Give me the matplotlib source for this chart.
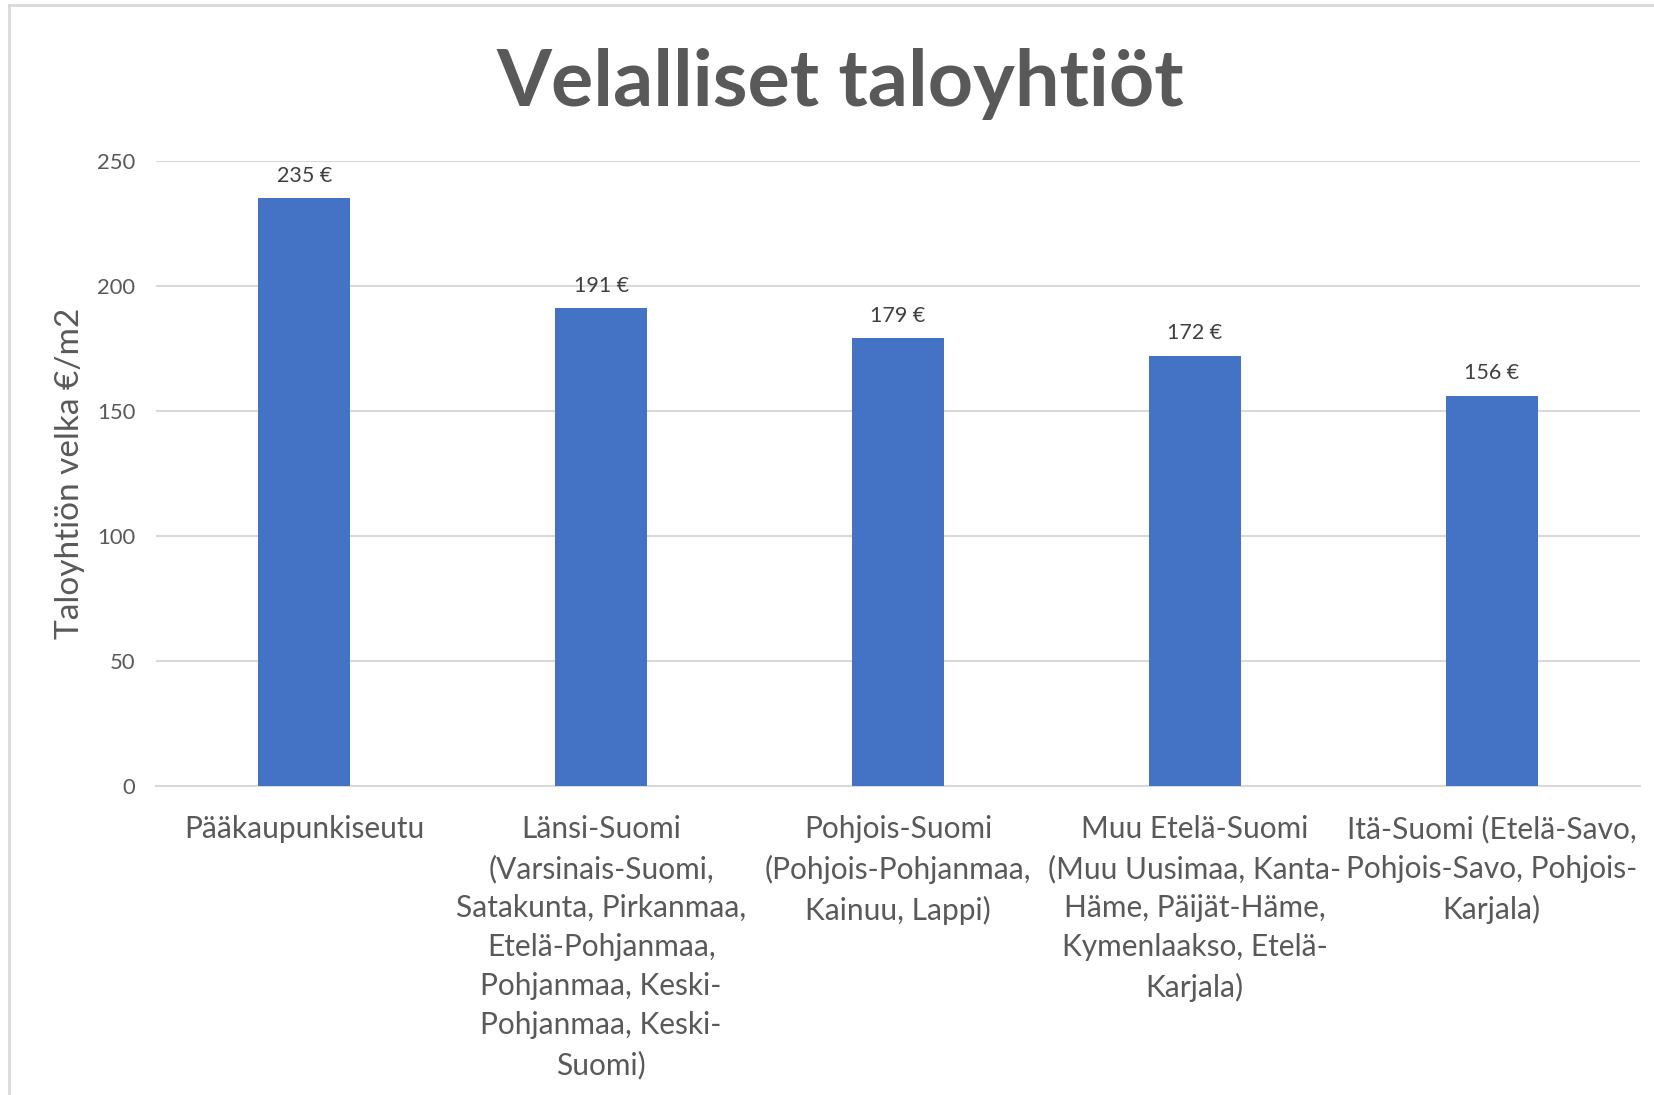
import matplotlib.pyplot as plt
from matplotlib.lines import Line2D

# data
regions = [
    'Pääkaupunkiseutu',
    'Länsi-Suomi\n(Varsinais-Suomi,\nSatakunta, Pirkanmaa,\nEtelä-Pohjanmaa,\nPohjanmaa, Keski-\nPohjanmaa, Keski-\nSuomi)',
    'Pohjois-Suomi\n(Pohjois-Pohjanmaa,\nKainuu, Lappi)',
    'Muu Etelä-Suomi\n(Muu Uusimaa, Kanta-\nHäme, Päijät-Häme,\nKymenlaakso, Etelä-\nKarjala)',
    'Itä-Suomi (Etelä-Savo,\nPohjois-Savo, Pohjois-\nKarjala)',
]
debt = [235, 191, 179, 172, 156]
yticks = [0, 50, 100, 150, 200, 250]

plt.rcParams['font.family'] = ['Lato', 'DejaVu Sans']

fig = plt.figure(figsize=(16.54, 10.95), dpi=100)
ax = fig.add_axes([0.0943, 0.2822, 0.8972, 0.5708])

x = range(len(regions))
ax.bar(x, debt, width=0.31, color='#4472C4', zorder=3)
for xi, v in zip(x, debt):
    ax.annotate('{} €'.format(v), (xi, v), xytext=(0, 9), textcoords='offset points',
                ha='center', va='bottom', fontsize=15.5, color='#404040')

ax.set_xlim(-0.5, len(regions) - 0.5)
ax.set_ylim(0, 250)
ax.set_yticks(yticks)
ax.grid(axis='y', color='#d9d9d9', linewidth=1.5, zorder=0)
for s in ['top', 'right', 'left']:
    ax.spines[s].set_visible(False)
ax.spines['bottom'].set_color('#d9d9d9')
ax.spines['bottom'].set_linewidth(1.5)
ax.tick_params(axis='y', length=0, pad=15, labelsize=15.8, labelcolor='#595959')
ax.tick_params(axis='x', length=0, pad=21, labelsize=21.5, labelcolor='#595959')
ax.set_xticks(list(x))
ax.set_xticklabels(regions, linespacing=1.48, va='top', ha='center')

ax.set_ylabel('Taloyhtiön velka €/m2', fontsize=24, color='#595959')
ax.yaxis.set_label_coords(-0.048, 0.5)

fig.text(0.508, 0.923, 'Velalliset taloyhtiöt', ha='center', va='center',
         fontsize=57, fontweight='bold', color='#595959')

# outer chart border (left and top visible in the reference)
fig.add_artist(Line2D([0.0054, 0.0054], [0.0, 0.995], color='#d9d9d9', lw=2))
fig.add_artist(Line2D([0.0054, 1.0], [0.995, 0.995], color='#d9d9d9', lw=2))

plt.savefig('out.png')
